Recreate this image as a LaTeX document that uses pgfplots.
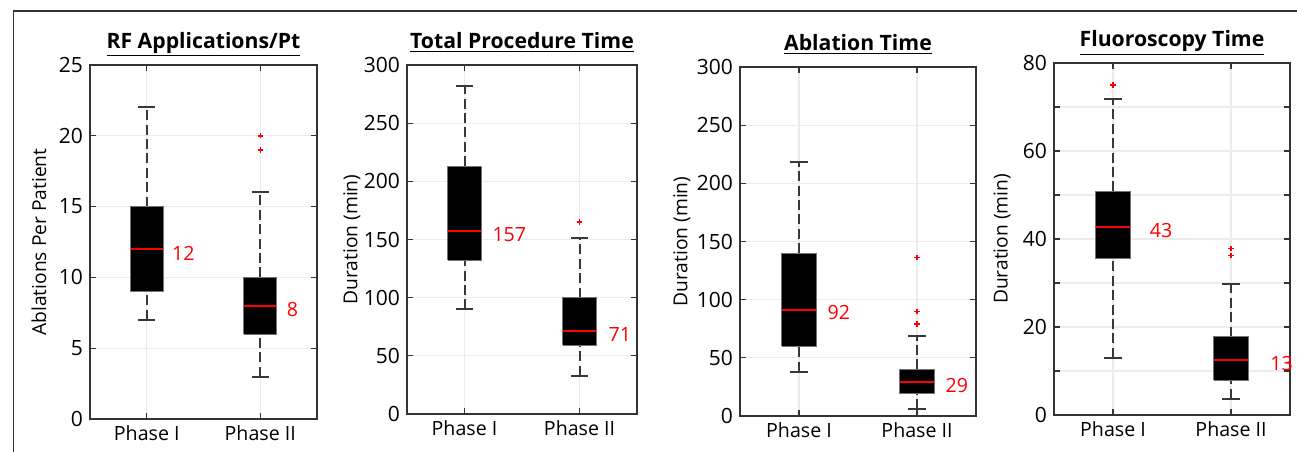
\documentclass[border=0pt]{standalone}
\usepackage{fontspec}
\setmainfont{Open Sans}
\usepackage{pgfplots}
\pgfplotsset{compat=1.18}

\newcommand{\fsz}{\fontsize{9.8}{11}\selectfont}
\newcommand{\lsz}{\fontsize{9.6}{11}\selectfont}
\newcommand{\ysz}{\fontsize{10.5}{12}\selectfont}

\tikzset{
  whisk/.style={black!78, line width=1pt, dash pattern=on 5pt off 2.2pt},
  wcap/.style={black!78, line width=1pt},
  boxst/.style={fill=black, draw=black!55, line width=0.5pt, line join=miter},
  medst/.style={red, line width=1pt},
  outl/.style={only marks, mark=+, mark size=1.3pt, mark options={red, solid, line width=0.7pt}},
  med/.style={red, anchor=west, inner sep=0pt, font=\fsz},
}
\pgfplotsset{
  panel/.style={
    scale only axis, anchor=south west, clip=false,
    xmin=0.5, xmax=2.5, xtick={1,2}, xticklabels={Phase I, Phase II},
    tick align=inside, major tick length=3pt, minor tick length=3pt,
    xmajorgrids, ymajorgrids,
    major grid style={black!8, line width=0.6pt},
    minor grid style={black!8, line width=0.6pt},
    axis line style={black!80, line width=0.8pt},
    tick style={black!80, line width=0.6pt},
    /pgf/number format/assume math mode=true,
    xticklabel style={font=\fsz},
    yticklabel style={font=\ysz},
    label style={font=\lsz},
    title style={font=\fontsize{10.6}{12}\bfseries, at={(0.5,1)}, anchor=base, yshift=2.5pt},
    ylabel style={anchor=center},
  },
}

% box at position 1 / 2: lower whisker, Q1, median, Q3, upper whisker
\newcommand{\boxone}[5]{%
  \addplot[whisk] coordinates {(1,#1) (1,#2)};
  \addplot[whisk] coordinates {(1,#4) (1,#5)};
  \addplot[wcap] coordinates {(0.925,#1) (1.075,#1)};
  \addplot[wcap] coordinates {(0.925,#5) (1.075,#5)};
  \addplot[boxst] coordinates {(0.855,#2) (1.145,#2) (1.145,#4) (0.855,#4) (0.855,#2)};
  \addplot[medst] coordinates {(0.857,#3) (1.143,#3)};
}
\newcommand{\boxtwo}[5]{%
  \addplot[whisk] coordinates {(2,#1) (2,#2)};
  \addplot[whisk] coordinates {(2,#4) (2,#5)};
  \addplot[wcap] coordinates {(1.925,#1) (2.075,#1)};
  \addplot[wcap] coordinates {(1.925,#5) (2.075,#5)};
  \addplot[boxst] coordinates {(1.855,#2) (2.145,#2) (2.145,#4) (1.855,#4) (1.855,#2)};
  \addplot[medst] coordinates {(1.857,#3) (2.143,#3)};
}

\begin{document}
\begin{tikzpicture}
\useasboundingbox (0,0) rectangle (648.5pt,225.5pt);
\draw[black!80, line width=0.75pt] (6.75pt,-2pt) -- (6.75pt,220pt) -- (652pt,220pt);

% RF applications per patient
\begin{axis}[panel, at={(45pt,16pt)}, width=113.5pt, height=177pt,
  ymin=0, ymax=25, ytick={0,5,...,25},
  title={\underline{RF Applications/Pt}},
  ylabel={Ablations Per Patient},
  ylabel style={at={(axis description cs:-0.225,0.5)}}]
\boxone{7}{9}{12}{15}{22}
\boxtwo{3}{6}{8}{10}{16}
\addplot[outl] coordinates {(2,19) (2,20)};
\node[med] at (axis cs:1.22,11.7) {12};
\node[med] at (axis cs:2.23,7.7) {8};
\end{axis}

% total procedure time
\begin{axis}[panel, at={(203.5pt,18.5pt)}, width=115pt, height=174.5pt,
  ymin=0, ymax=300, ytick={0,50,...,300},
  title={\underline{Total Procedure Time}},
  ylabel={Duration (min)},
  ylabel style={at={(axis description cs:-0.24,0.5)}}]
\boxone{90}{132}{157}{213}{282}
\boxtwo{33}{59}{71}{100}{151}
\addplot[outl] coordinates {(2,165)};
\node[med] at (axis cs:1.24,154) {157};
\node[med] at (axis cs:2.25,68) {71};
\end{axis}

% ablation time
\begin{axis}[panel, at={(370pt,17.5pt)}, width=118pt, height=174.5pt,
  ymin=0, ymax=300, ytick={0,50,...,300},
  title={\underline{Ablation Time}},
  ylabel={Duration (min)},
  ylabel style={at={(axis description cs:-0.246,0.5)}}]
\boxone{38}{60}{91}{140}{218}
\boxtwo{6}{19}{29}{40}{69}
\addplot[outl] coordinates {(2,79) (2,90) (2,136)};
\node[med] at (axis cs:1.24,89) {92};
\node[med] at (axis cs:2.24,26) {29};
\end{axis}

% fluoroscopy time
\begin{axis}[panel, at={(527pt,18pt)}, width=118pt, height=176pt,
  ymin=0, ymax=80, ytick={0,20,...,80}, minor ytick={10,30,50,70},
  yminorgrids,
  title={\underline{Fluoroscopy Time}},
  ylabel={Duration (min)},
  ylabel style={at={(axis description cs:-0.22,0.5)}}]
\boxone{13}{35.5}{42.7}{50.8}{71.8}
\boxtwo{3.7}{7.9}{12.4}{17.8}{29.7}
\addplot[outl] coordinates {(1,75) (2,36.3) (2,37.8)};
\node[med] at (axis cs:1.31,42) {43};
\node[med] at (axis cs:2.33,11.8) {13};
\end{axis}
\end{tikzpicture}
\end{document}
